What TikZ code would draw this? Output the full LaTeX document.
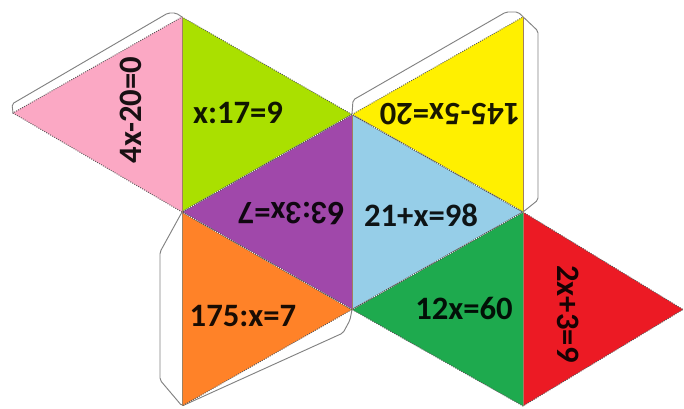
\documentclass[tikz,border=0pt]{standalone}
\usepackage{fontspec}
\setmainfont{Carlito}
\definecolor{cpink}{RGB}{251,168,196}
\definecolor{clime}{RGB}{170,224,0}
\definecolor{cpurple}{RGB}{160,72,170}
\definecolor{corange}{RGB}{255,130,40}
\definecolor{cblue}{RGB}{150,206,232}
\definecolor{cyellow}{RGB}{255,240,0}
\definecolor{cgreen}{RGB}{30,170,78}
\definecolor{cred}{RGB}{236,26,36}
\definecolor{cflap}{RGB}{130,130,130}
\tikzset{
  flap/.style={fill=white,draw=cflap,line width=0.7pt,rounded corners=1.5pt},
  outeredge/.style={draw=gray!70!black,line width=0.7pt,densely dotted},
  inneredge/.style={draw=gray!60!black,line width=0.8pt},
  innerdots/.style={draw=white,line width=0.6pt,densely dotted},
  vedge/.style={draw=brown!50!gray,line width=0.6pt},
  eq/.style={font=\fontsize{24.5}{24.5}\selectfont\bfseries,text=black,text opacity=0.9,inner sep=0pt}
}
\begin{document}
\begin{tikzpicture}[x=0.75pt,y=-0.75pt]
\useasboundingbox (0,0) rectangle (684,408);
\coordinate (A) at (13,113);
\coordinate (B) at (182,17);
\coordinate (C) at (182,212);
\coordinate (D) at (182,406);
\coordinate (E) at (352,114.5);
\coordinate (F) at (352,309.5);
\coordinate (G) at (523,17);
\coordinate (H) at (523,212);
\coordinate (I) at (523,406);
\coordinate (J) at (683,309.5);
% flaps
\fill[white] (A) -- (12,104) -- (168,13) -- (176,13) -- (B) -- cycle;
\draw[flap,fill=none] (A) -- (12,104) -- (168,13) -- (176,13) -- (B);
\fill[white] (E) -- (353,100) -- (506,12) -- (518,12) -- (538,31) -- (538,200) -- (H) -- (G) -- cycle;
\draw[flap,fill=none] (E) -- (353,100) -- (506,12) -- (518,12) -- (538,31) -- (538,200) -- (H);
\fill[white] (C) -- (160,252) -- (160,380) -- (D) -- (343,333) -- (350,320) -- (F) -- cycle;
\draw[flap,fill=none] (C) -- (160,252) -- (160,380) -- (D) -- (343,333) -- (350,320) -- (F);
% faces
\fill[cpink] (A) -- (B) -- (C) -- cycle;
\fill[clime] (B) -- (C) -- (E) -- cycle;
\fill[cpurple] (C) -- (E) -- (F) -- cycle;
\fill[corange] (C) -- (D) -- (F) -- cycle;
\fill[cblue] (E) -- (F) -- (H) -- cycle;
\fill[cyellow] (E) -- (G) -- (H) -- cycle;
\fill[cgreen] (F) -- (H) -- (I) -- cycle;
\fill[cred] (H) -- (I) -- (J) -- cycle;
% outer diagonal edges
\draw[outeredge] (C) -- (A) -- (B) -- (E);
\draw[outeredge] (E) -- (G);
\draw[outeredge] (H) -- (J) -- (I) -- (F) -- (D);
% inner diagonal edges
\draw[inneredge] (C) -- (E) (C) -- (F) (E) -- (H) (F) -- (H);
\draw[innerdots] (C) -- (E) (C) -- (F) (E) -- (H) (F) -- (H);
% vertical edges
\draw[vedge] (B) -- (D);
\draw[vedge] (E) -- (F);
\draw[vedge] (G) -- (I);
% labels
\node[eq,rotate=90] (t1) at (131,110) {4x-20=0};
\node[eq] (t2) at (238,113) {x:17=9};
\node[eq,rotate=180] (t3) at (291,214) {63:3x=7};
\node[eq] (t4) at (421,215) {21+x=98};
\node[eq,rotate=180] (t5) at (450,114) {145-5x=20};
\node[eq] (t6) at (243,316) {175:x=7};
\node[eq] (t7) at (464,308) {12x=60};
\node[eq,rotate=270] (t8) at (568,314) {2x+3=9};
\end{tikzpicture}
\end{document}
